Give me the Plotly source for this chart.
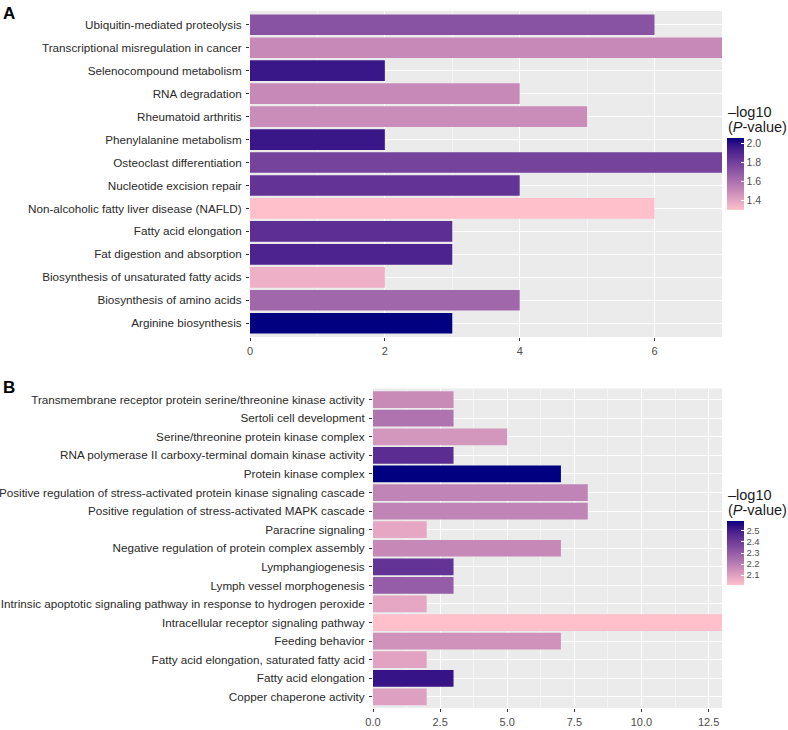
import numpy as np
import plotly.graph_objects as go

# ---------------- data ----------------
cats_a = [
    "Ubiquitin-mediated proteolysis",
    "Transcriptional misregulation in cancer",
    "Selenocompound metabolism",
    "RNA degradation",
    "Rheumatoid arthritis",
    "Phenylalanine metabolism",
    "Osteoclast differentiation",
    "Nucleotide excision repair",
    "Non-alcoholic fatty liver disease (NAFLD)",
    "Fatty acid elongation",
    "Fat digestion and absorption",
    "Biosynthesis of unsaturated fatty acids",
    "Biosynthesis of amino acids",
    "Arginine biosynthesis",
]
count_a = [6, 7, 2, 4, 5, 2, 7, 4, 6, 3, 3, 2, 4, 3]
logp_a = [1.72, 1.50, 1.97, 1.50, 1.49, 1.97, 1.79, 1.85, 1.30, 1.87, 1.92, 1.36, 1.64, 2.06]

cats_b = [
    "Transmembrane receptor protein serine/threonine kinase activity",
    "Sertoli cell development",
    "Serine/threonine protein kinase complex",
    "RNA polymerase II carboxy-terminal domain kinase activity",
    "Protein kinase complex",
    "Positive regulation of stress-activated protein kinase signaling cascade",
    "Positive regulation of stress-activated MAPK cascade",
    "Paracrine signaling",
    "Negative regulation of protein complex assembly",
    "Lymphangiogenesis",
    "Lymph vessel morphogenesis",
    "Intrinsic apoptotic signaling pathway in response to hydrogen peroxide",
    "Intracellular receptor signaling pathway",
    "Feeding behavior",
    "Fatty acid elongation, saturated fatty acid",
    "Fatty acid elongation",
    "Copper chaperone activity",
]
count_b = [3, 3, 5, 3, 7, 8, 8, 2, 7, 3, 3, 2, 13, 7, 2, 3, 2]
logp_b = [2.16, 2.23, 2.13, 2.45, 2.59, 2.18, 2.18, 2.08, 2.17, 2.43, 2.30, 2.08, 2.01, 2.14, 2.09, 2.53, 2.10]

ticks_a = [0, 2, 4, 6]
ticks_b = [0.0, 2.5, 5.0, 7.5, 10.0, 12.5]
cbar_ticks_a = [1.4, 1.6, 1.8, 2.0]
cbar_ticks_b = [2.1, 2.2, 2.3, 2.4, 2.5]

# ------------- Lab gradient pink -> navy (as ggplot) -------------
def srgb_to_lab(rgb):
    c = np.array(rgb, float) / 255.0
    c = np.where(c <= 0.04045, c / 12.92, ((c + 0.055) / 1.055) ** 2.4)
    M = np.array([[0.4124, 0.3576, 0.1805], [0.2126, 0.7152, 0.0722], [0.0193, 0.1192, 0.9505]])
    xyz = M @ c / np.array([0.95047, 1.0, 1.08883])
    f = np.where(xyz > 0.008856, np.cbrt(xyz), 7.787 * xyz + 16 / 116)
    return np.array([116 * f[1] - 16, 500 * (f[0] - f[1]), 200 * (f[1] - f[2])])

def lab_to_srgb(lab):
    L, a, b = lab
    fy_ = (L + 16) / 116
    f = np.array([fy_ + a / 500, fy_, fy_ - b / 200])
    xyz = np.where(f ** 3 > 0.008856, f ** 3, (f - 16 / 116) / 7.787) * np.array([0.95047, 1.0, 1.08883])
    Minv = np.array([[3.2406, -1.5372, -0.4986], [-0.9689, 1.8758, 0.0415], [0.0557, -0.2040, 1.0570]])
    c = np.clip(Minv @ xyz, 0, 1)
    c = np.where(c <= 0.0031308, 12.92 * c, 1.055 * c ** (1 / 2.4) - 0.055)
    return tuple(int(round(v * 255)) for v in c)

lab_lo = srgb_to_lab((255, 192, 203))
lab_hi = srgb_to_lab((0, 0, 128))
scale = []
for t in np.linspace(0, 1, 21):
    r, g, b = lab_to_srgb(lab_lo + (lab_hi - lab_lo) * t)
    scale.append([float(t), f"rgb({r},{g},{b})"])

# ------------- figure (page pixel helpers) -------------
W, H = 788, 730

def fx(px):
    return px / W

def fy(py):
    return 1 - py / H

FONT = "Liberation Sans, Arial, sans-serif"

fig = go.Figure()
fig.add_trace(go.Bar(x=count_a, y=cats_a, orientation="h", width=0.9,
                     marker=dict(color=logp_a, coloraxis="coloraxis", line=dict(width=0)),
                     xaxis="x", yaxis="y", hoverinfo="x+y"))
fig.add_trace(go.Bar(x=count_b, y=cats_b, orientation="h", width=0.9,
                     marker=dict(color=logp_b, coloraxis="coloraxis2", line=dict(width=0)),
                     xaxis="x2", yaxis="y2", hoverinfo="x+y"))

common_x = dict(showgrid=True, gridcolor="white", gridwidth=1.2, zeroline=False,
                ticks="outside", ticklen=3, tickcolor="#333333", tickwidth=1,
                tickfont=dict(family=FONT, size=11, color="#4D4D4D"),
                showline=False, fixedrange=True, ticklabelstandoff=1)
common_y = dict(showgrid=True, gridcolor="white", gridwidth=1.2, zeroline=False,
                ticks="outside", ticklen=3, tickcolor="#333333", tickwidth=1,
                tickfont=dict(family=FONT, size=11.7, color="#2a2a2a"),
                showline=False, categoryorder="array", fixedrange=True, ticklabelstandoff=2)

cb_common = dict(thickness=17, lenmode="pixels", xanchor="left", yanchor="top",
                 xpad=0, ypad=0, outlinewidth=0, ticks="inside", ticklen=3,
                 tickcolor="white", tickwidth=1, tickformat=".1f",
                 tickfont=dict(family=FONT, size=10.5, color="#4D4D4D"))

title_font = dict(family=FONT, size=14.5, color="#1a1a1a")

def title_lines(y1, y2):
    return [
        dict(text="\u2013log10", xref="paper", yref="paper", x=fx(726), y=fy(y1), xanchor="left",
             yanchor="middle", showarrow=False, font=title_font),
        dict(text="(<i>P</i>-value)", xref="paper", yref="paper", x=fx(726), y=fy(y2), xanchor="left",
             yanchor="middle", showarrow=False, font=title_font),
    ]

fig.update_layout(
    width=W, height=H, margin=dict(l=0, r=0, t=0, b=0, autoexpand=False),
    paper_bgcolor="white", plot_bgcolor="#EBEBEB", showlegend=False, bargap=0.1,
    xaxis=dict(common_x, domain=[fx(250), fx(722)], anchor="y", range=[0, 7], tickvals=ticks_a,
               minor=dict(showgrid=True, gridcolor="#F5F5F5", gridwidth=0.6, tickvals=[1, 3, 5, 7], ticks="")),
    yaxis=dict(common_y, domain=[fy(337), fy(11)], anchor="x", categoryarray=cats_a[::-1],
               range=[-0.6, len(cats_a) - 0.4]),
    xaxis2=dict(common_x, domain=[fx(373), fx(722)], anchor="y2", range=[0, 13], tickvals=ticks_b,
                tickformat=".1f",
                minor=dict(showgrid=True, gridcolor="#F5F5F5", gridwidth=0.6,
                           tickvals=[1.25, 3.75, 6.25, 8.75, 11.25], ticks="")),
    yaxis2=dict(common_y, domain=[fy(708), fy(388.5)], anchor="x2", categoryarray=cats_b[::-1],
                range=[-0.6, len(cats_b) - 0.4]),
    coloraxis=dict(colorscale=scale, cmin=min(logp_a), cmax=max(logp_a),
                   colorbar=dict(cb_common, x=fx(727), y=fy(138), len=72, tickvals=cbar_ticks_a)),
    coloraxis2=dict(colorscale=scale, cmin=min(logp_b), cmax=max(logp_b),
                    colorbar=dict(cb_common, x=fx(727), y=fy(521), len=64, tickvals=cbar_ticks_b,
                                  tickfont=dict(family=FONT, size=9.5, color="#4D4D4D"))),
    annotations=[
        dict(text="<b>A</b>", xref="paper", yref="paper", x=fx(1), y=fy(2), xanchor="left", yanchor="top",
             showarrow=False, font=dict(family=FONT, size=17, color="black")),
        dict(text="<b>B</b>", xref="paper", yref="paper", x=fx(1), y=fy(376), xanchor="left", yanchor="top",
             showarrow=False, font=dict(family=FONT, size=17, color="black")),
    ] + title_lines(112, 127) + title_lines(495, 510),
)

fig.write_html("out.html", config={"displayModeBar": False},
               post_script="document.body.style.margin='0';")
